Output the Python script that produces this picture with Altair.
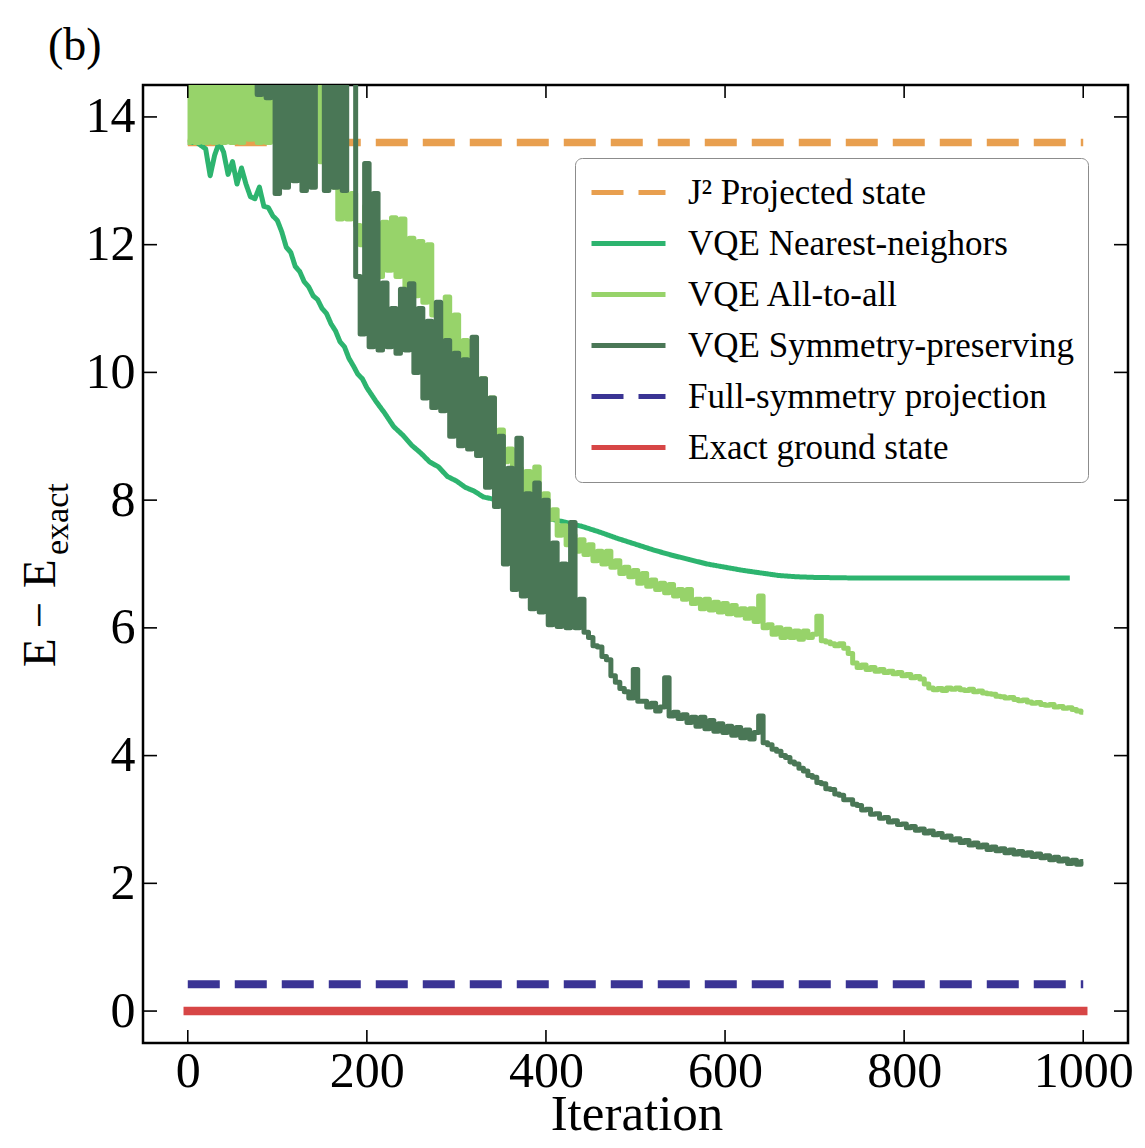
import altair as alt
import pandas as pd

# ---------------- data ----------------
series_names = [
    "J\u00b2 Projected state",
    "VQE Nearest-neighors",
    "VQE All-to-all",
    "VQE Symmetry-preserving",
    "Full-symmetry projection",
    "Exact ground state",
]
series_colors = ["#E89F4F", "#2DB46F", "#97D36A", "#4A7756", "#3A3494", "#D74646"]
series_dashes = [[32, 15], [1, 0], [1, 0], [1, 0], [32, 15], [1, 0]]

level_iters = [0, 1000]
j2_level = [13.6, 13.6]
full_level = [0.42, 0.42]
exact_level = [0.0, 0.0]

nn_iter = [0, 5, 10, 15, 20, 25, 30, 35, 40, 45,
           50, 55, 60, 65, 70, 75, 80, 85, 90, 95,
           100, 105, 110, 115, 120, 125, 130, 135, 140, 145,
           150, 155, 160, 165, 170, 175, 180, 185, 190, 195,
           200, 210, 220, 230, 240, 250, 260, 270, 280, 290,
           300, 310, 320, 330, 340, 350, 360, 370, 380, 390,
           400, 420, 440, 460, 480, 500, 520, 540, 560, 580,
           600, 620, 640, 660, 680, 700, 750, 800, 850, 900,
           950, 985]
nn_val = [13.6, 13.6, 13.6, 13.55, 13.5, 13.08, 13.4, 13.6, 13.45, 13.1,
          13.3, 12.95, 13.2, 12.95, 12.75, 12.72, 12.9, 12.6, 12.58, 12.45,
          12.38, 12.2, 11.96, 11.88, 11.66, 11.58, 11.42, 11.34, 11.2, 11.14,
          11.0, 10.92, 10.76, 10.65, 10.48, 10.4, 10.22, 10.1, 9.97, 9.9,
          9.76, 9.55, 9.36, 9.15, 9.02, 8.86, 8.74, 8.6, 8.52, 8.37,
          8.3, 8.2, 8.14, 8.05, 8.02, 7.95, 7.9, 7.86, 7.8, 7.77,
          7.72, 7.66, 7.59, 7.5, 7.4, 7.31, 7.22, 7.14, 7.07, 7.0,
          6.95, 6.9, 6.86, 6.82, 6.8, 6.79, 6.78, 6.78, 6.78, 6.78,
          6.78, 6.78]

grid_iter = list(range(0, 1001, 5))

aa_val = [
    13.6, 15.0, 13.6, 15.0, 13.6, 15.0, 13.6, 15.0, 13.6, 15.0,      # 0-45
    13.6, 15.0, 13.6, 15.0, 13.65, 15.2, 13.6, 14.35, 13.6, 15.0,    # 50-95
    15.2, 15.0, 15.2, 15.0, 15.2, 15.0, 15.2, 15.0, 15.2, 15.0,      # 100-145
    13.3, 15.0, 13.6, 12.9, 12.4, 12.85, 12.4, 12.8, 12.3, 12.0,     # 150-195
    12.6, 11.8, 12.3, 11.5, 12.35, 11.6, 12.42, 11.5, 12.4, 11.3,    # 200-245
    12.1, 11.2, 12.05, 11.1, 12.0, 10.9, 11.0, 10.5, 11.18, 10.2,    # 250-295
    10.9, 9.8, 10.5, 9.7, 10.0, 9.5, 9.9, 9.3, 9.6, 9.0,             # 300-345
    9.1, 8.6, 8.8, 8.4, 8.5, 8.1, 8.45, 8.0, 8.52, 7.95,             # 350-395
    8.1, 7.7, 7.85, 7.45, 7.6, 7.3, 7.45, 7.2, 7.38, 7.15,           # 400-445
    7.3, 7.05, 7.2, 7.0, 7.2, 6.95, 7.05, 6.85, 6.95, 6.8,           # 450-495
    6.9, 6.7, 6.85, 6.65, 6.75, 6.6, 6.7, 6.55, 6.68, 6.5,           # 500-545
    6.6, 6.45, 6.6, 6.38, 6.45, 6.3, 6.45, 6.28, 6.4, 6.25,          # 550-595
    6.38, 6.22, 6.35, 6.2, 6.3, 6.15, 6.3, 6.1, 6.5, 6.0,            # 600-645
    6.05, 5.9, 6.0, 5.85, 5.98, 5.85, 5.95, 5.82, 5.95, 5.85,        # 650-695
    5.9, 6.18, 5.8, 5.78, 5.75, 5.72, 5.75, 5.68, 5.6, 5.45,         # 700-745
    5.38, 5.42, 5.35, 5.38, 5.32, 5.35, 5.3, 5.32, 5.28, 5.3,        # 750-795
    5.25, 5.27, 5.22, 5.24, 5.2, 5.12, 5.06, 5.03, 5.05, 5.02,       # 800-845
    5.06, 5.04, 5.06, 5.03, 5.02, 5.04, 5.0, 5.01, 4.98, 4.97,       # 850-895
    4.96, 4.93, 4.92, 4.9, 4.91, 4.88, 4.86, 4.87, 4.84, 4.82,       # 900-945
    4.83, 4.8, 4.79, 4.8, 4.76, 4.77, 4.74, 4.75, 4.72, 4.7,         # 950-995
    4.68,                                                            # 1000
]

sp_val = [
    15.0, 15.2, 15.0, 15.2, 15.0, 15.2, 15.0, 15.2, 15.0, 15.2,      # 0-45
    15.0, 15.2, 15.0, 15.2, 15.0, 15.2, 14.35, 15.0, 14.3, 15.0,     # 50-95
    12.8, 15.0, 12.9, 15.0, 13.0, 15.0, 12.85, 15.0, 12.9, 15.0,     # 100-145
    15.0, 12.85, 15.0, 12.9, 15.0, 12.85, 15.0, 15.0, 11.5, 10.6,    # 150-195
    13.27, 10.4, 12.8, 10.35, 11.4, 10.4, 11.0, 10.3, 11.3, 10.35,   # 200-245
    11.39, 10.0, 11.0, 9.6, 10.8, 9.45, 11.1, 9.4, 10.5, 9.0,        # 250-295
    10.3, 8.85, 10.2, 8.8, 10.55, 8.7, 9.9, 8.2, 9.6, 7.9,           # 300-345
    9.0, 7.0, 8.5, 6.6, 8.97, 6.5, 8.1, 6.3, 8.27, 6.25,             # 350-395
    8.0, 6.05, 7.33, 6.02, 7.0, 6.0, 7.65, 6.0, 6.45, 5.93,          # 400-445
    5.85, 5.72, 5.7, 5.55, 5.5, 5.25, 5.15, 5.05, 5.0, 4.9,          # 450-495
    5.35, 4.85, 4.85, 4.76, 4.82, 4.7, 4.76, 5.22, 4.62, 4.68,       # 500-545
    4.58, 4.64, 4.52, 4.6, 4.46, 4.6, 4.42, 4.55, 4.38, 4.5,         # 550-595
    4.36, 4.46, 4.32, 4.44, 4.28, 4.4, 4.26, 4.36, 4.62, 4.2,        # 600-645
    4.17, 4.1, 4.07, 4.0, 3.97, 3.9, 3.87, 3.8, 3.76, 3.69,          # 650-695
    3.66, 3.58, 3.56, 3.48, 3.47, 3.4, 3.38, 3.31, 3.31, 3.24,       # 700-745
    3.22, 3.15, 3.16, 3.08, 3.09, 3.02, 3.03, 2.96, 2.98, 2.92,      # 750-795
    2.93, 2.87, 2.89, 2.83, 2.85, 2.79, 2.82, 2.76, 2.78, 2.72,      # 800-845
    2.74, 2.68, 2.7, 2.64, 2.67, 2.6, 2.63, 2.57, 2.6, 2.53,         # 850-895
    2.57, 2.51, 2.54, 2.48, 2.52, 2.46, 2.5, 2.44, 2.48, 2.42,       # 900-945
    2.46, 2.4, 2.43, 2.37, 2.41, 2.35, 2.38, 2.31, 2.36, 2.3,        # 950-995
    2.34,                                                            # 1000
]

x_tick_values = [0, 200, 400, 600, 800, 1000]
y_tick_values = [0, 2, 4, 6, 8, 10, 12, 14]

assert len(nn_iter) == len(nn_val)
assert len(grid_iter) == len(aa_val) == len(sp_val)

# ---------------- tables ----------------
def frame(iters, vals, name):
    return pd.DataFrame({"iter": iters, "value": vals, "series": name})

df_j2 = frame(level_iters, j2_level, series_names[0])
df_nn = frame(nn_iter, nn_val, series_names[1])
df_aa = frame(grid_iter, aa_val, series_names[2])
df_sp = frame(grid_iter, sp_val, series_names[3])
df_full = frame(level_iters, full_level, series_names[4])
df_exact = frame(level_iters, exact_level, series_names[5])

SERIF = "Liberation Serif"
W, H = 985, 958

xscale = alt.Scale(domain=[-50, 1050], nice=False, zero=False)
yscale = alt.Scale(domain=[-0.5, 14.5], nice=False, zero=False)
cscale = alt.Scale(domain=series_names, range=series_colors)
dscale = alt.Scale(domain=series_names, range=series_dashes)

xaxis = alt.Axis(values=x_tick_values, title=None, ticks=False, tickSize=0, domain=False,
                 grid=False, labelFont=SERIF, labelFontSize=50, labelColor="black",
                 labelPadding=3, labelFlush=False, labelOverlap=False, format="d")
yaxis = alt.Axis(values=y_tick_values, title=None, ticks=False, tickSize=0, domain=False,
                 grid=False, labelFont=SERIF, labelFontSize=50, labelColor="black",
                 labelPadding=8, labelFlush=False, labelOverlap=False, format="d")

legend = alt.Legend(title=None, orient="none", legendX=432, legendY=73,
                    symbolType="stroke", symbolSize=5476, symbolStrokeWidth=5,
                    labelFont=SERIF, labelFontSize=35, labelColor="black",
                    labelOffset=20, labelLimit=0, clipHeight=41, rowPadding=10,
                    padding=14, fillColor="white", strokeColor="#8c8c8c",
                    cornerRadius=7)


def line_layer(df, width, cap="butt", interp="linear"):
    return alt.Chart(df).mark_line(clip=True, strokeWidth=width, strokeJoin="round",
                                   strokeCap=cap, interpolate=interp).encode(
        x=alt.X("iter:Q", scale=xscale, axis=xaxis),
        y=alt.Y("value:Q", scale=yscale, axis=yaxis),
        color=alt.Color("series:N", scale=cscale, legend=legend),
        strokeDash=alt.StrokeDash("series:N", scale=dscale, legend=legend),
    )


layers = [
    line_layer(df_j2, 7.5),
    line_layer(df_nn, 5),
    line_layer(df_aa, 5, interp="step"),
    line_layer(df_sp, 5, interp="step"),
    line_layer(df_full, 8),
    line_layer(df_exact, 8.5, cap="square"),
]

# inward ticks on all four sides
xt = pd.DataFrame({"v": x_tick_values})
yt = pd.DataFrame({"v": y_tick_values})
tick_style = dict(color="black", strokeWidth=1.6)
ticks = [
    alt.Chart(xt).mark_rule(**tick_style).encode(
        x=alt.X("v:Q", scale=xscale, axis=xaxis), y=alt.value(H), y2=alt.value(H - 13)),
    alt.Chart(xt).mark_rule(**tick_style).encode(
        x=alt.X("v:Q", scale=xscale, axis=xaxis), y=alt.value(0), y2=alt.value(13)),
    alt.Chart(yt).mark_rule(**tick_style).encode(
        y=alt.Y("v:Q", scale=yscale, axis=yaxis), x=alt.value(0), x2=alt.value(14)),
    alt.Chart(yt).mark_rule(**tick_style).encode(
        y=alt.Y("v:Q", scale=yscale, axis=yaxis), x=alt.value(W), x2=alt.value(W - 14)),
]

# texts: panel label, axis titles (with subscript)
txt_df = pd.DataFrame({"t": ["(b)"]})


def rot_text(s, size, x, y, align="left"):
    return alt.Chart(txt_df).mark_text(text=s, font=SERIF, fontSize=size, align=align,
                                       baseline="alphabetic", angle=270,
                                       color="black").encode(
        x=alt.value(x), y=alt.value(y))


texts = [
    alt.Chart(txt_df).mark_text(text="(b)", font=SERIF, fontSize=46, align="left",
                                baseline="alphabetic", color="black").encode(
        x=alt.value(-95), y=alt.value(-25)),
    alt.Chart(txt_df).mark_text(text="Iteration", font=SERIF, fontSize=51, align="center",
                                baseline="alphabetic", color="black").encode(
        x=alt.value(494), y=alt.value(1045)),
    rot_text("E", 47, -88, 582),
    rot_text("\u2212", 47, -88, 530, align="center"),
    rot_text("E", 47, -88, 503),
    rot_text("exact", 34, -75, 470),
]

chart = alt.layer(*layers, *ticks, *texts).properties(
    width=W, height=H,
    autosize=alt.AutoSizeParams(type="none"),
    padding={"left": 135, "top": 77, "right": 9, "bottom": 97},
).configure_view(stroke="black", strokeWidth=2.5)

chart.save("out.html", embed_options={"renderer": "svg", "actions": False})
